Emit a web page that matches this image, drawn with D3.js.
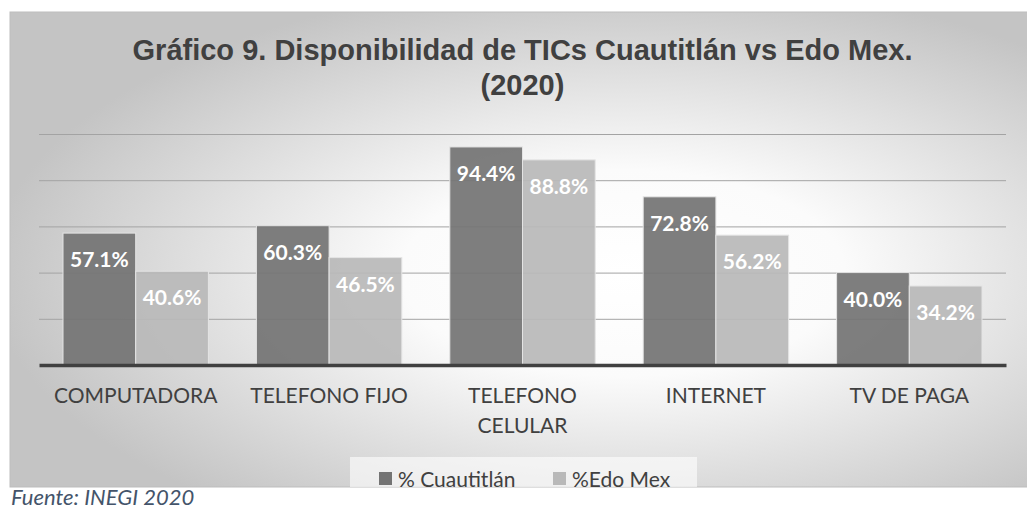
<!DOCTYPE html>
<html>
<head>
<meta charset="utf-8">
<script src="https://cdn.jsdelivr.net/npm/d3@7"></script>
<style>
  body { margin: 0; background: #fff; }
  svg { display: block; }
</style>
</head>
<body>
<div id="container"></div>
<script>
// Data
const categories = ["COMPUTADORA", "TELEFONO FIJO", "TELEFONO CELULAR", "INTERNET", "TV DE PAGA"];
const seriesNames = ["% Cuautitlán", "%Edo Mex"];
const cuautitlan = [57.1, 60.3, 94.4, 72.8, 40.0];
const edoMex = [40.6, 46.5, 88.8, 56.2, 34.2];
const gridValues = [20, 40, 60, 80, 100];

const width = 1027;
const height = 510;
const chartTop = 12;
const chartLeft = 10;
const chartBottom = 487;
const plotLeft = 39;
const plotRight = 1006;
const plotTop = 134;
const plotBottom = 365;

const colors = ["#747474", "#b9b9b9"];

const data = categories.map((c, i) => ({
  category: c,
  values: [
    { series: seriesNames[0], value: cuautitlan[i] },
    { series: seriesNames[1], value: edoMex[i] }
  ]
}));

const svg = d3.create("svg").attr("width", width).attr("height", height);
// attach early so text measuring works for the label wrap
document.getElementById("container").append(svg.node());

// background gradient + clip for the chart frame
const defs = svg.append("defs");
const grad = defs.append("radialGradient")
  .attr("id", "bg")
  .attr("cx", "0.6").attr("cy", "0.55").attr("r", "0.62");
grad.append("stop").attr("offset", "0%").attr("stop-color", "#ffffff");
grad.append("stop").attr("offset", "35%").attr("stop-color", "#fbfbfb");
grad.append("stop").attr("offset", "100%").attr("stop-color", "#c4c4c4");

defs.append("clipPath").attr("id", "frame")
  .append("rect")
  .attr("x", chartLeft).attr("y", chartTop)
  .attr("width", width - chartLeft + 5).attr("height", chartBottom - chartTop);

svg.append("rect")
  .attr("x", chartLeft).attr("y", chartTop)
  .attr("width", width - chartLeft + 5).attr("height", chartBottom - chartTop)
  .attr("fill", "url(#bg)")
  .attr("stroke", "#bdbdbd")
  .attr("stroke-width", 1);

const g = svg.append("g").attr("clip-path", "url(#frame)");

// Scales
const x = d3.scaleBand()
  .domain(categories)
  .range([plotLeft, plotRight])
  .padding(0);

const x1 = d3.scaleBand()
  .domain(seriesNames)
  .range([0, x.bandwidth()])
  .paddingInner(0)
  .paddingOuter(0.33);

const y = d3.scaleLinear()
  .domain([0, 100])
  .range([plotBottom, plotTop]);

const color = d3.scaleOrdinal().domain(seriesNames).range(colors);

// Gridlines
g.append("g")
  .attr("transform", `translate(${plotLeft},0)`)
  .call(d3.axisLeft(y).tickValues(gridValues).tickSize(-(plotRight - plotLeft)).tickFormat(""))
  .call(ax => ax.select(".domain").remove())
  .call(ax => ax.selectAll(".tick line").attr("stroke", "#a3a3a3").attr("stroke-width", 1));

// Bars
const groups = g.append("g")
  .selectAll("g")
  .data(data)
  .join("g")
  .attr("transform", d => `translate(${x(d.category)},0)`);

groups.selectAll("rect")
  .data(d => d.values)
  .join("rect")
  .attr("x", d => x1(d.series))
  .attr("y", d => y(d.value))
  .attr("width", x1.bandwidth())
  .attr("height", d => y(0) - y(d.value))
  .attr("fill", d => color(d.series))
  .attr("fill-opacity", 0.93)
  .attr("stroke", "#e4e4e4")
  .attr("stroke-width", 1);

// Data labels
groups.selectAll("text")
  .data(d => d.values)
  .join("text")
  .attr("x", d => x1(d.series) + x1.bandwidth() / 2)
  .attr("y", d => y(d.value) + 34)
  .attr("text-anchor", "middle")
  .attr("font-family", "Lato, 'Open Sans', sans-serif")
  .attr("font-weight", "bold")
  .attr("font-size", "21px")
  .attr("fill", "#ffffff")
  .text(d => d.value.toFixed(1) + "%");

// Category axis
const xAxis = g.append("g")
  .attr("transform", `translate(0,${plotBottom})`)
  .call(d3.axisBottom(x).tickSize(0).tickSizeOuter(0));

xAxis.select(".domain")
  .attr("stroke", "#404040")
  .attr("stroke-width", 3.5);

xAxis.selectAll(".tick text")
  .attr("font-family", "Lato, 'Open Sans', sans-serif")
  .attr("font-size", "21px")
  .attr("fill", "#404040")
  .attr("y", 38)
  .attr("dy", 0)
  .call(wrap, 175);

function wrap(texts, maxWidth) {
  texts.each(function () {
    const text = d3.select(this);
    const words = text.text().split(/\s+/);
    const yy = text.attr("y");
    text.text(null);
    let line = [];
    let lineNo = 0;
    let tspan = text.append("tspan").attr("x", 0).attr("y", yy).attr("dy", 0);
    for (const w of words) {
      line.push(w);
      tspan.text(line.join(" "));
      if (tspan.node().getComputedTextLength() > maxWidth && line.length > 1) {
        line.pop();
        tspan.text(line.join(" "));
        line = [w];
        lineNo++;
        tspan = text.append("tspan").attr("x", 0).attr("y", yy).attr("dy", lineNo * 30).text(w);
      }
    }
  });
}

// Title
const title = g.append("text")
  .attr("text-anchor", "middle")
  .attr("font-family", "'Liberation Sans', Arial, sans-serif")
  .attr("font-weight", "bold")
  .attr("font-size", "29px")
  .attr("fill", "#404040");
title.append("tspan").attr("x", (plotLeft + plotRight) / 2).attr("y", 60)
  .text("Gráfico 9. Disponibilidad de TICs Cuautitlán vs Edo Mex.");
title.append("tspan").attr("x", (plotLeft + plotRight) / 2).attr("y", 95)
  .text("(2020)");

// Legend
g.append("rect")
  .attr("x", 350).attr("y", 457)
  .attr("width", 347).attr("height", 40)
  .attr("fill", "#ffffff")
  .attr("fill-opacity", 0.6);

const legendX = [379, 553];
const legend = g.append("g")
  .selectAll("g")
  .data(seriesNames)
  .join("g")
  .attr("transform", (d, i) => `translate(${legendX[i]},472)`);

legend.append("rect")
  .attr("width", 13).attr("height", 13)
  .attr("fill", d => color(d));

legend.append("text")
  .attr("x", 19).attr("y", 15)
  .attr("font-family", "Lato, 'Open Sans', sans-serif")
  .attr("font-size", "21px")
  .attr("fill", "#404040")
  .text(d => d);

// Source note
svg.append("text")
  .attr("x", 11).attr("y", 505)
  .attr("font-family", "Lato, 'Open Sans', sans-serif")
  .attr("font-style", "italic")
  .attr("font-size", "22px")
  .attr("fill", "#44546a")
  .text("Fuente: INEGI 2020");
</script>
</body>
</html>
